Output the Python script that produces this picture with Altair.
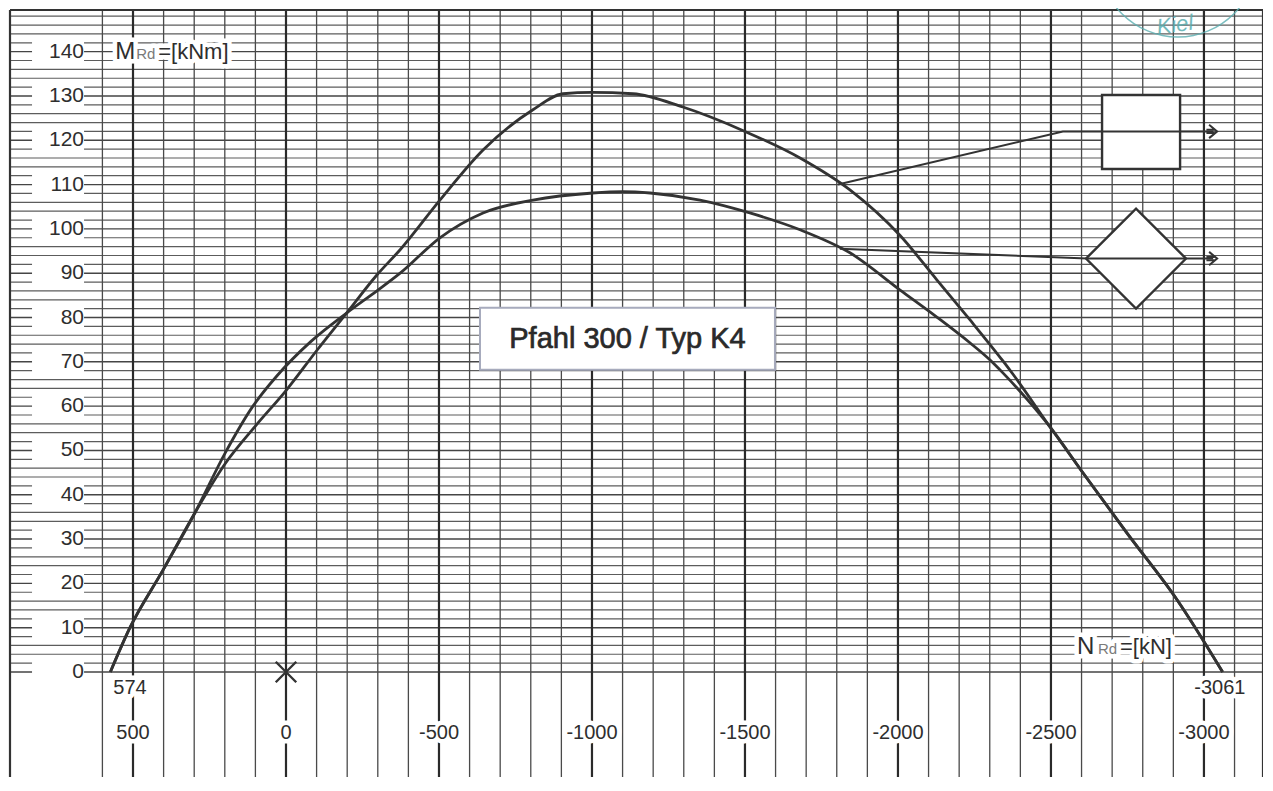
import math
import altair as alt
import pandas as pd

# ---------------- data ----------------
# Rectangle-symbol curve (upper, flat top near 130.5 kNm)
sq_N = [574, 510, 402, 297, 199, 100, 0, -100, -198, -297, -373, -503, -644, -807,
        -905, -1000, -1134, -1297, -1500, -1680, -1843, -2007, -2127, -2235, -2343,
        -2376, -2497, -2605, -2748, -2912, -3061]
sq_M = [0, 10, 23, 36, 47, 55.5, 63.5, 72.5, 81, 89.6, 95.3, 106.5, 117.8, 126.9,
        130.5, 130.8, 130.5, 127.5, 122, 116, 108.8, 98.5, 88.5, 79.5, 70.2,
        67.2, 55.3, 44.9, 31.4, 16.3, 0]
# Diamond-symbol curve (lower, peak near 108 kNm)
di_N = [574, 510, 402, 297, 199, 108, 30, -80, -198, -297, -373, -503, -644, -807,
        -1003, -1100, -1190, -1353, -1516, -1680, -1843, -2007, -2127, -2235, -2301,
        -2343, -2420, -2497, -2605, -2748, -2912, -3061]
di_M = [0, 10, 23, 36, 49.4, 60, 66.8, 74.5, 81, 86, 90, 98, 103.6, 106.5,
        108.1, 108.4, 108.1, 106.5, 103.6, 99.8, 94.6, 86.2, 80.1, 74.3, 70.4,
        67.5, 61.7, 55.3, 44.9, 31.4, 16.3, 0]

y_labels = list(range(0, 141, 10))
x_labels = [500, 0, -500, -1000, -1500, -2000, -2500, -3000]
end_labels_N = [510, -3052]
end_labels_txt = ["574", "-3061"]

# leader lines to the section symbols
sq_lead_N = [-1804, -2539, -3030]
sq_lead_M = [110, 122, 122]
di_lead_N = [-1810, -2618, -3030]
di_lead_M = [95.5, 93.3, 93.3]
sq_box = {"N1": -2667, "N2": -2922, "M1": 113.5, "M2": 130.2}
di_center = {"N": -2778, "M": 93.3}

title_text = "Pfahl 300 / Typ K4"
title_pos = {"N": -1116, "M": 75.2}
title_box = {"N1": -634, "N2": -1598, "M1": 68.2, "M2": 82.2}

# ---------------- layout ----------------
W, H = 1253, 767
xs = alt.Scale(domain=[-3193, 902], reverse=True, nice=False, zero=False)
ys = alt.Scale(domain=[-23.7, 149.4], nice=False, zero=False)
FONT = "Liberation Sans"
INK = "#2e2e2e"


def X(f="N"):
    return alt.X(f"{f}:Q", scale=xs, axis=None)


def Y(f="M"):
    return alt.Y(f"{f}:Q", scale=ys, axis=None)


layers = []

# horizontal grid (every 2 kNm, 0..148)
hg = pd.DataFrame({"M": list(range(0, 149, 2))})
hg["major"] = hg["M"] % 10 == 0
layers.append(alt.Chart(hg[~hg.major]).mark_rule(color="#5c5c5c", strokeWidth=1.2).encode(
    y=Y(), x=alt.value(0), x2=alt.value(W)))
layers.append(alt.Chart(hg[hg.major]).mark_rule(color="#454545", strokeWidth=1.4).encode(
    y=Y(), x=alt.value(0), x2=alt.value(W)))

# vertical grid (every 100 kN from 600)
vg = pd.DataFrame({"N": list(range(600, -3193, -100))})
vg["major"] = vg["N"] % 500 == 0
layers.append(alt.Chart(vg[~vg.major]).mark_rule(color="#4a4a4a", strokeWidth=1.3).encode(
    x=X(), y=alt.value(0), y2=alt.value(H)))
layers.append(alt.Chart(vg[vg.major]).mark_rule(color="#2a2a2a", strokeWidth=2.2).encode(
    x=X(), y=alt.value(0), y2=alt.value(H)))

# frame (left, top, right)
frame = pd.DataFrame({"k": [0]})
layers.append(alt.Chart(frame).mark_rule(color="#333", strokeWidth=2.2).encode(
    x=alt.value(0), y=alt.value(0), y2=alt.value(H)))
layers.append(alt.Chart(frame).mark_rule(color="#333", strokeWidth=2.2).encode(
    y=alt.value(0), x=alt.value(0), x2=alt.value(W)))
layers.append(alt.Chart(frame).mark_rule(color="#333", strokeWidth=2.2).encode(
    x=alt.value(W), y=alt.value(0), y2=alt.value(H)))

# y labels with white boxes
yl = pd.DataFrame({"M": y_labels})
yl["txt"] = yl["M"].astype(str)
yl["lo"] = yl["M"] - 3
yl["hi"] = yl["M"] + 3
yl["N1"] = 830
yl["N2"] = 660
layers.append(alt.Chart(yl).mark_rect(color="white").encode(
    x=X("N1"), x2="N2:Q", y=Y("lo"), y2="hi:Q"))
layers.append(alt.Chart(yl).mark_text(align="right", baseline="middle", font=FONT,
                                       fontSize=21, color=INK).encode(
    x=X("N2"), y=Y(), text="txt:N"))

# x labels (white halo interrupts grid lines)
xl = pd.DataFrame({"N": x_labels, "M": [-13.8] * len(x_labels)})
xl["txt"] = xl["N"].astype(str)
el = pd.DataFrame({"N": end_labels_N, "M": [-3.7, -3.7], "txt": end_labels_txt})
for d in (xl, el):
    layers.append(alt.Chart(d).mark_text(align="center", baseline="middle", font=FONT,
                                          fontSize=20, color="white", stroke="white",
                                          strokeWidth=9, strokeJoin="round").encode(
        x=X(), y=Y(), text="txt:N"))
    layers.append(alt.Chart(d).mark_text(align="center", baseline="middle", font=FONT,
                                          fontSize=20, color=INK).encode(
        x=X(), y=Y(), text="txt:N"))


# axis name labels  M_Rd=[kNm]  and  N_Rd=[kN]
def axis_name(N, M, big, tail):
    d = pd.DataFrame({"N": [N], "M": [M]})
    out = []
    parts = [(big, 0, 24, INK, 0), ("Rd", 21, 15, "#7a7a7a", 2), (tail, 43, 22, INK, 0)]
    for txt, dx, fs, col, dy in parts:
        out.append(alt.Chart(d).mark_text(text=txt, align="left", baseline="middle", dx=dx,
                                           dy=dy, font=FONT, fontSize=fs, color="white",
                                           stroke="white", strokeWidth=9,
                                           strokeJoin="round").encode(x=X(), y=Y()))
    for txt, dx, fs, col, dy in parts:
        out.append(alt.Chart(d).mark_text(text=txt, align="left", baseline="middle", dx=dx,
                                           dy=dy, font=FONT, fontSize=fs,
                                           color=col).encode(x=X(), y=Y()))
    return out


layers += axis_name(558, 140, "M", "=[kNm]")
layers += axis_name(-2585, 5.6, "N", "=[kN]")

# curves
cdf = pd.concat([
    pd.DataFrame({"N": sq_N, "M": sq_M, "s": "Rechteck", "i": range(len(sq_N))}),
    pd.DataFrame({"N": di_N, "M": di_M, "s": "Raute", "i": range(len(di_N))}),
])
layers.append(alt.Chart(cdf).mark_line(color="#333333", strokeWidth=2.8,
                                       interpolate="monotone", strokeJoin="round").encode(
    x=X(), y=Y(), detail="s:N", order="i:Q"))

# section symbols
sb = pd.DataFrame([sq_box])
layers.append(alt.Chart(sb).mark_rect(fill="white", stroke="#333333", strokeWidth=2.4).encode(
    x=X("N1"), x2="N2:Q", y=Y("M1"), y2="M2:Q"))
dc = pd.DataFrame([di_center])
layers.append(alt.Chart(dc).mark_point(shape="diamond", size=10000, filled=True,
                                       fill="white", stroke="#333333", strokeWidth=2.4,
                                       opacity=1).encode(x=X(), y=Y()))

# leader lines + arrow heads
ld = pd.concat([
    pd.DataFrame({"N": sq_lead_N, "M": sq_lead_M, "s": "a", "i": range(3)}),
    pd.DataFrame({"N": di_lead_N, "M": di_lead_M, "s": "b", "i": range(3)}),
])
layers.append(alt.Chart(ld).mark_line(color="#333333", strokeWidth=2).encode(
    x=X(), y=Y(), detail="s:N", order="i:Q"))
ah = pd.DataFrame({"N": [sq_lead_N[-1], di_lead_N[-1]], "M": [sq_lead_M[-1], di_lead_M[-1]]})
layers.append(alt.Chart(ah).mark_point(shape="M-0.6,-1L0.6,0L-0.6,1M-1,-0.25L0.2,-0.25M-1,0.25L0.2,0.25",
                                       size=180, filled=False, stroke="#333333",
                                       strokeWidth=2, opacity=1).encode(x=X(), y=Y()))

# title box
tb = pd.DataFrame([title_box])
layers.append(alt.Chart(tb).mark_rect(fill="white", stroke="#a7abbd", strokeWidth=2).encode(
    x=X("N1"), x2="N2:Q", y=Y("M1"), y2="M2:Q"))
tp = pd.DataFrame([title_pos])
layers.append(alt.Chart(tp).mark_text(text=title_text, align="center", baseline="middle",
                                      font=FONT, fontSize=29, color="#2a2a2a",
                                      stroke="#2a2a2a", strokeWidth=0.7).encode(x=X(), y=Y()))

# origin cross
oc = pd.DataFrame({"N": [0], "M": [0]})
layers.append(alt.Chart(oc).mark_point(shape="M-1,-1L1,1M-1,1L1,-1", size=420, filled=False,
                                       stroke="#333333", strokeWidth=2.4, opacity=1).encode(
    x=X(), y=Y()))

# stamp fragment (top right)
st = pd.DataFrame({"N": [-2915], "M": [161.2]})
layers.append(alt.Chart(st).mark_arc(radius=80, radius2=78.5, theta=0, theta2=2 * math.pi,
                                     color="#5aaeb0", opacity=0.8).encode(x=X(), y=Y()))
sk = pd.DataFrame({"N": [-2905], "M": [146.0]})
layers.append(alt.Chart(sk).mark_text(text="Kiel", align="center", baseline="middle",
                                      font=FONT, fontSize=22, fontStyle="italic", angle=352,
                                      color="#5aaeb0", opacity=0.85).encode(x=X(), y=Y()))

chart = alt.layer(*layers).properties(
    width=W, height=H,
    padding={"left": 2, "top": 2, "right": 0, "bottom": 0},
    autosize=alt.AutoSizeParams(type="none"),
    background="white",
).configure_view(stroke=None)

chart.save("out.html", embed_options={"renderer": "svg", "actions": False})
